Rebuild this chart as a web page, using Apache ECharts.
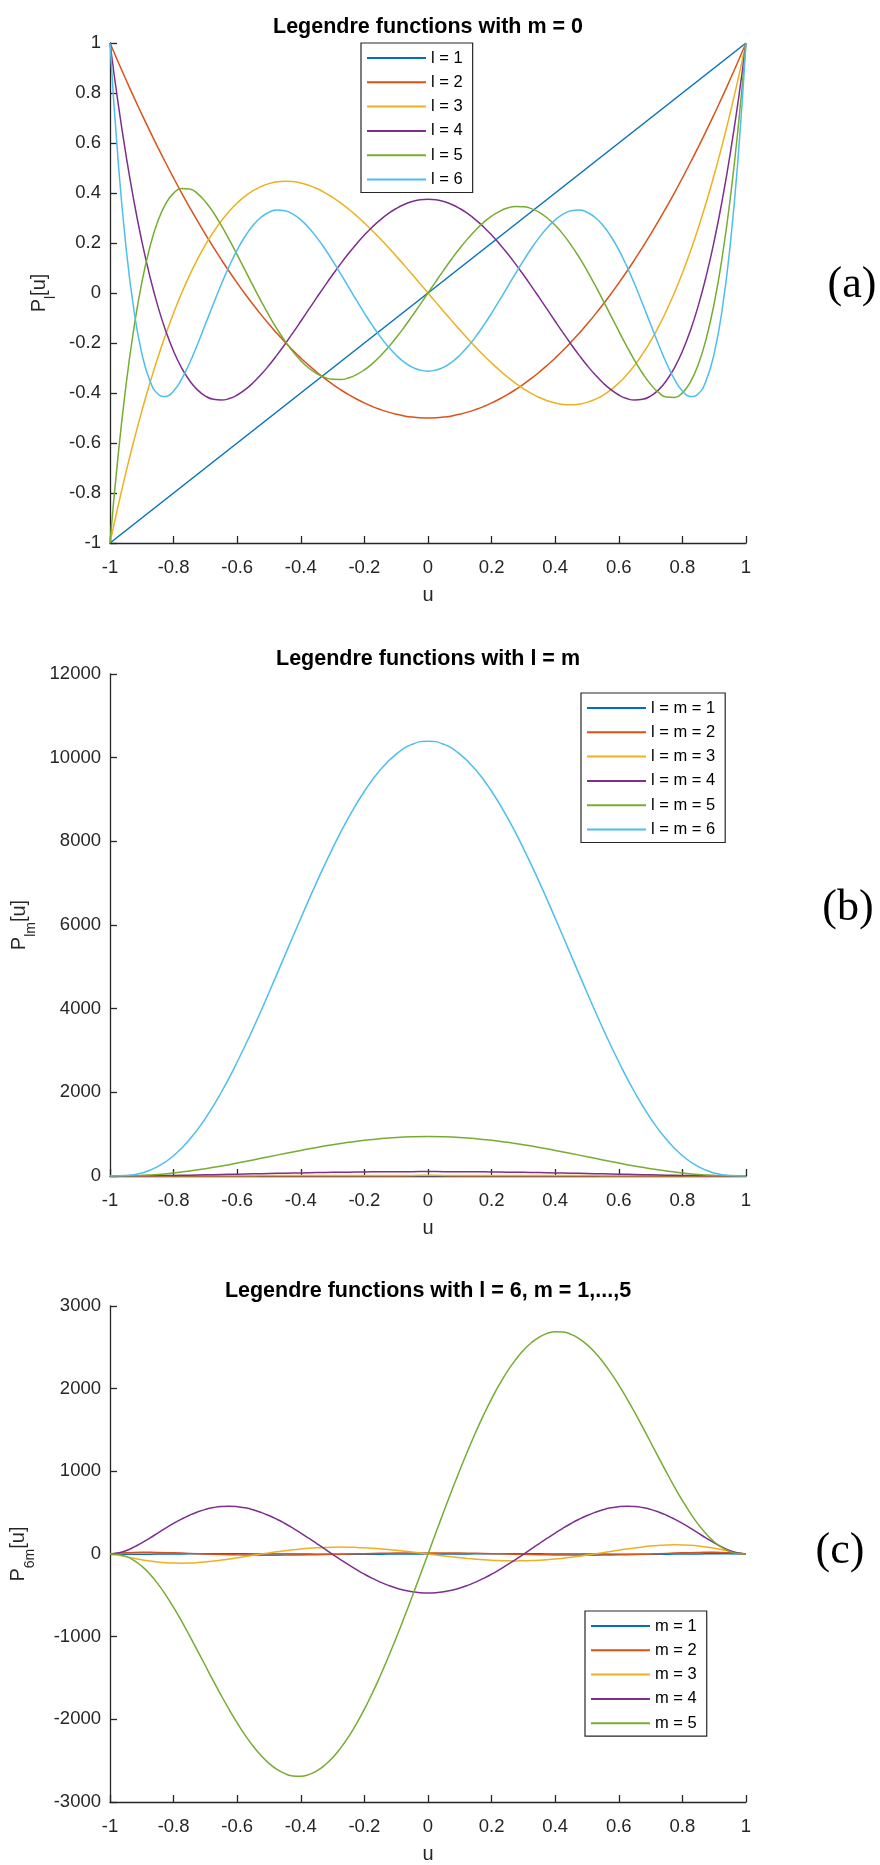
<!DOCTYPE html>
<html>
<head>
<meta charset="utf-8">
<script src="https://cdn.jsdelivr.net/npm/echarts@6/dist/echarts.min.js"></script>
<style>
html,body{margin:0;padding:0;background:#fff;}
#chart{width:880px;height:1865px;}
</style>
</head>
<body>
<div id="chart"></div>
<script>
// ---------- data ----------
// fine u grid (step 0.025) used by the wavy curves
const uA = [-1,-0.975,-0.95,-0.925,-0.9,-0.875,-0.85,-0.825,-0.8,-0.775,-0.75,-0.725,-0.7,-0.675,-0.65,-0.625,-0.6,-0.575,-0.55,-0.525,-0.5,-0.475,-0.45,-0.425,-0.4,-0.375,-0.35,-0.325,-0.3,-0.275,-0.25,-0.225,-0.2,-0.175,-0.15,-0.125,-0.1,-0.075,-0.05,-0.025,0,0.025,0.05,0.075,0.1,0.125,0.15,0.175,0.2,0.225,0.25,0.275,0.3,0.325,0.35,0.375,0.4,0.425,0.45,0.475,0.5,0.525,0.55,0.575,0.6,0.625,0.65,0.675,0.7,0.725,0.75,0.775,0.8,0.825,0.85,0.875,0.9,0.925,0.95,0.975,1];
// coarser u grid (step 0.05)
const uB = [-1,-0.95,-0.9,-0.85,-0.8,-0.75,-0.7,-0.65,-0.6,-0.55,-0.5,-0.45,-0.4,-0.35,-0.3,-0.25,-0.2,-0.15,-0.1,-0.05,0,0.05,0.1,0.15,0.2,0.25,0.3,0.35,0.4,0.45,0.5,0.55,0.6,0.65,0.7,0.75,0.8,0.85,0.9,0.95,1];
// straight line end points
const uL = [-1, 1];

// panel (a): P_l[u], m = 0
const a_l1 = [-1, 1];
const a_l2 = [1,0.9259,0.8538,0.7834,0.715,0.6484,0.5838,0.5209,0.46,0.4009,0.3438,0.2884,0.235,0.1834,0.1338,0.0859,0.04,-0.0041,-0.0463,-0.0866,-0.125,-0.1616,-0.1963,-0.2291,-0.26,-0.2891,-0.3163,-0.3416,-0.365,-0.3866,-0.4063,-0.4241,-0.44,-0.4541,-0.4663,-0.4766,-0.485,-0.4916,-0.4963,-0.4991,-0.5,-0.4991,-0.4963,-0.4916,-0.485,-0.4766,-0.4663,-0.4541,-0.44,-0.4241,-0.4063,-0.3866,-0.365,-0.3416,-0.3163,-0.2891,-0.26,-0.2291,-0.1963,-0.1616,-0.125,-0.0866,-0.0463,-0.0041,0.04,0.0859,0.1338,0.1834,0.235,0.2884,0.3438,0.4009,0.46,0.5209,0.5838,0.6484,0.715,0.7834,0.8538,0.9259,1];
const a_l3 = [-1,-0.8547,-0.7184,-0.5911,-0.4725,-0.3623,-0.2603,-0.1663,-0.08,-0.0012,0.0703,0.1348,0.1925,0.2436,0.2884,0.3272,0.36,0.3872,0.4091,0.4257,0.4375,0.4446,0.4472,0.4456,0.44,0.4307,0.4178,0.4017,0.3825,0.3605,0.3359,0.309,0.28,0.2491,0.2166,0.1826,0.1475,0.1115,0.0747,0.0375,0,-0.0375,-0.0747,-0.1115,-0.1475,-0.1826,-0.2166,-0.2491,-0.28,-0.309,-0.3359,-0.3605,-0.3825,-0.4017,-0.4178,-0.4307,-0.44,-0.4456,-0.4472,-0.4446,-0.4375,-0.4257,-0.4091,-0.3872,-0.36,-0.3272,-0.2884,-0.2436,-0.1925,-0.1348,-0.0703,0.0012,0.08,0.1663,0.2603,0.3623,0.4725,0.5911,0.7184,0.8547,1];
const a_l4 = [1,0.7638,0.5541,0.3693,0.2079,0.0685,-0.0506,-0.1506,-0.233,-0.2991,-0.3501,-0.3874,-0.4121,-0.4254,-0.4284,-0.4223,-0.408,-0.3866,-0.359,-0.3262,-0.2891,-0.2484,-0.205,-0.1596,-0.113,-0.0658,-0.0187,0.0277,0.0729,0.1164,0.1577,0.1964,0.232,0.2643,0.2928,0.3175,0.3379,0.354,0.3657,0.3727,0.375,0.3727,0.3657,0.354,0.3379,0.3175,0.2928,0.2643,0.232,0.1964,0.1577,0.1164,0.0729,0.0277,-0.0187,-0.0658,-0.113,-0.1596,-0.205,-0.2484,-0.2891,-0.3262,-0.359,-0.3866,-0.408,-0.4223,-0.4284,-0.4254,-0.4121,-0.3874,-0.3501,-0.2991,-0.233,-0.1506,-0.0506,0.0685,0.2079,0.3693,0.5541,0.7638,1];
const a_l5 = [-1,-0.6567,-0.3727,-0.142,0.0411,0.182,0.2857,0.3567,0.3995,0.4182,0.4164,0.3977,0.3652,0.3219,0.2705,0.2133,0.1526,0.0904,0.0282,-0.0323,-0.0898,-0.1433,-0.1917,-0.2344,-0.2706,-0.3001,-0.3225,-0.3376,-0.3454,-0.346,-0.3397,-0.3268,-0.3075,-0.2825,-0.2523,-0.2175,-0.1788,-0.137,-0.0927,-0.0467,0,0.0467,0.0927,0.137,0.1788,0.2175,0.2523,0.2825,0.3075,0.3268,0.3397,0.346,0.3454,0.3376,0.3225,0.3001,0.2706,0.2344,0.1917,0.1433,0.0898,0.0323,-0.0282,-0.0904,-0.1526,-0.2133,-0.2705,-0.3219,-0.3652,-0.3977,-0.4164,-0.4182,-0.3995,-0.3567,-0.2857,-0.182,-0.0411,0.142,0.3727,0.6567,1];
const a_l6 = [1,0.5374,0.1877,-0.0669,-0.2412,-0.3491,-0.403,-0.414,-0.3918,-0.3449,-0.2808,-0.2058,-0.1253,-0.0439,0.0347,0.1075,0.1721,0.2269,0.2708,0.303,0.3232,0.3318,0.329,0.3156,0.2926,0.2612,0.2225,0.178,0.1292,0.0774,0.0243,-0.0289,-0.0806,-0.1296,-0.1747,-0.2147,-0.2488,-0.2762,-0.2962,-0.3084,-0.3125,-0.3084,-0.2962,-0.2762,-0.2488,-0.2147,-0.1747,-0.1296,-0.0806,-0.0289,0.0243,0.0774,0.1292,0.178,0.2225,0.2612,0.2926,0.3156,0.329,0.3318,0.3232,0.303,0.2708,0.2269,0.1721,0.1075,0.0347,-0.0439,-0.1253,-0.2058,-0.2808,-0.3449,-0.3918,-0.414,-0.403,-0.3491,-0.2412,-0.0669,0.1877,0.5374,1];

// panel (b): P_lm[u] with l = m (on uB)
const b_m1 = [0,0.312,0.436,0.527,0.6,0.661,0.714,0.76,0.8,0.835,0.866,0.893,0.917,0.937,0.954,0.968,0.98,0.989,0.995,0.999,1,0.999,0.995,0.989,0.98,0.968,0.954,0.937,0.917,0.893,0.866,0.835,0.8,0.76,0.714,0.661,0.6,0.527,0.436,0.312,0];
const b_m2 = [0,0.29,0.57,0.83,1.08,1.31,1.53,1.73,1.92,2.09,2.25,2.39,2.52,2.63,2.73,2.81,2.88,2.93,2.97,2.99,3,2.99,2.97,2.93,2.88,2.81,2.73,2.63,2.52,2.39,2.25,2.09,1.92,1.73,1.53,1.31,1.08,0.83,0.57,0.29,0];
const b_m3 = [0,0.46,1.24,2.19,3.24,4.34,5.46,6.58,7.68,8.74,9.74,10.68,11.55,12.33,13.02,13.62,14.11,14.5,14.78,14.94,15,14.94,14.78,14.5,14.11,13.62,13.02,12.33,11.55,10.68,9.74,8.74,7.68,6.58,5.46,4.34,3.24,2.19,1.24,0.46,0];
const b_m4 = [0,1,3.8,8.1,13.6,20.1,27.3,35,43,51.1,59.1,66.8,74.1,80.9,87,92.3,96.8,100.3,102.9,104.5,105,104.5,102.9,100.3,96.8,92.3,87,80.9,74.1,66.8,59.1,51.1,43,35,27.3,20.1,13.6,8.1,3.8,1,0];
const b_m5 = [0,3,15,38,74,120,176,240,310,384,460,537,611,682,747,804,853,893,922,939,945,939,922,893,853,804,747,682,611,537,460,384,310,240,176,120,74,38,15,3,0];
const b_m6 = [0,10,71,222,485,871,1379,2002,2725,3527,4385,5273,6161,7024,7833,8565,9197,9709,10086,10317,10395,10317,10086,9709,9197,8565,7833,7024,6161,5273,4385,3527,2725,2002,1379,871,485,222,71,10,0];

// panel (c): P_6m[u], m = 1..5  (m = 1, 2 on uB; m = 3, 4, 5 on uA)
const c_m1 = [0,-3.741,-2.421,-0.648,0.861,1.867,2.331,2.314,1.919,1.272,0.497,-0.293,-1.005,-1.567,-1.929,-2.068,-1.982,-1.69,-1.228,-0.646,0,0.646,1.228,1.69,1.982,2.068,1.929,1.567,1.005,0.293,-0.497,-1.272,-1.919,-2.314,-2.331,-1.867,-0.861,0.648,2.421,3.741,0];
const c_m2 = [0,14.89,20.13,19.02,14.16,7.56,0.69,-5.41,-10.11,-13.05,-14.15,-13.52,-11.41,-8.18,-4.21,0.05,4.19,7.85,10.7,12.5,13.1,12.5,10.7,7.85,4.19,0.05,-4.21,-8.18,-11.41,-13.52,-14.15,-13.05,-10.11,-5.41,0.69,7.56,14.16,19.02,20.13,14.89,0];
const c_m3 = [0,-12.6,-31.6,-51.2,-69.4,-84.8,-96.8,-105.2,-110,-111.1,-109,-103.8,-96,-85.9,-74,-60.7,-46.4,-31.6,-16.5,-1.6,12.8,26.4,39,50.3,60.1,68.4,74.9,79.6,82.4,83.5,82.7,80.1,75.9,70.1,62.8,54.4,44.8,34.4,23.3,11.8,0,-11.8,-23.3,-34.4,-44.8,-54.4,-62.8,-70.1,-75.9,-80.1,-82.7,-83.5,-82.4,-79.6,-74.9,-68.4,-60.1,-50.3,-39,-26.4,-12.8,1.6,16.5,31.6,46.4,60.7,74,85.9,96,103.8,109,111.1,110,105.2,96.8,84.8,69.4,51.2,31.6,12.6,0];
const c_m4 = [0,10.9,40.1,82.9,134.9,192.6,252.8,312.7,369.9,422.5,469.2,508.5,539.5,561.7,574.8,578.5,572.9,558.2,535,503.8,465.1,419.9,368.9,313.1,253.4,190.8,126.4,61.2,-3.9,-67.9,-129.8,-188.7,-243.9,-294.4,-339.7,-379.2,-412.2,-438.3,-457.2,-468.7,-472.5,-468.7,-457.2,-438.3,-412.2,-379.2,-339.7,-294.4,-243.9,-188.7,-129.8,-67.9,-3.9,61.2,126.4,190.8,253.4,313.1,368.9,419.9,465.1,503.8,535,558.2,572.9,578.5,574.8,561.7,539.5,508.5,469.2,422.5,369.9,312.7,252.8,192.6,134.9,82.9,40.1,10.9,0];
const c_m5 = [0,-6,-29,-76,-147,-242,-358,-494,-647,-812,-987,-1168,-1352,-1534,-1713,-1883,-2044,-2191,-2323,-2437,-2532,-2606,-2657,-2685,-2689,-2669,-2624,-2556,-2464,-2348,-2212,-2054,-1877,-1683,-1473,-1249,-1014,-769,-517,-260,0,260,517,769,1014,1249,1473,1683,1877,2054,2212,2348,2464,2556,2624,2669,2689,2685,2657,2606,2532,2437,2323,2191,2044,1883,1713,1534,1352,1168,987,812,647,494,358,242,147,76,29,6,0];

// names / labels
const namesA = ['l = 1','l = 2','l = 3','l = 4','l = 5','l = 6'];
const namesB = ['l = m = 1','l = m = 2','l = m = 3','l = m = 4','l = m = 5','l = m = 6'];
const namesC = ['m = 1','m = 2','m = 3','m = 4','m = 5'];
const titles = ['Legendre functions with m = 0','Legendre functions with l = m','Legendre functions with l = 6, m = 1,...,5'];
const panelTags = ['(a)','(b)','(c)'];

// ---------- styling ----------
const colors = ['#0072BD','#D95319','#EDB120','#7E2F8E','#77AC30','#4DBEEE'];
const FONT = 'Liberation Sans, Arial, Helvetica, sans-serif';
const AX = '#262626';

const grids = [
  {left:110, top:43, width:636, height:500},
  {left:110, top:674, width:636, height:502},
  {left:110, top:1306, width:636, height:501}
];

function pairs(xs, ys){ return xs.map((x,i)=>[x, ys[i]]); }

function xAxisFor(i){
  return {
    type:'value', gridIndex:i, min:-1, max:1, interval:0.2,
    name:'u', nameLocation:'middle', nameGap:42,
    nameTextStyle:{fontSize:20, color:AX, fontFamily:FONT},
    axisLine:{show:true, onZero:false, lineStyle:{color:AX, width:1.3}},
    axisTick:{show:true, inside:true, length:7, lineStyle:{color:AX, width:1.3}},
    axisLabel:{fontSize:18.5, color:AX, fontFamily:FONT, margin:15},
    splitLine:{show:false}
  };
}
function yAxisFor(i, min, max, interval, sub, gap){
  return {
    type:'value', gridIndex:i, min:min, max:max, interval:interval,
    name:'{p|P}{s|' + sub + '}{p|[u]}', nameLocation:'middle', nameRotate:90, nameGap:gap,
    nameTextStyle:{color:AX, fontFamily:FONT, rich:{
      p:{fontSize:20, color:AX, fontFamily:FONT, lineHeight:38},
      s:{fontSize:14, color:AX, fontFamily:FONT, lineHeight:14, verticalAlign:'bottom'}
    }},
    axisLine:{show:true, onZero:false, lineStyle:{color:AX, width:1.3}},
    axisTick:{show:true, inside:true, length:7, lineStyle:{color:AX, width:1.3}},
    axisLabel:{fontSize:18.5, color:AX, fontFamily:FONT, margin:9, formatter:(v)=>String(Math.round(v*1000)/1000)},
    splitLine:{show:false}
  };
}
function lineSeries(name, gi, xs, ys, color){
  return {
    type:'line', name:name, xAxisIndex:gi, yAxisIndex:gi,
    data:pairs(xs, ys), symbol:'none', showSymbol:false, smooth:true,
    lineStyle:{width:1.5, color:color}, itemStyle:{color:color}, emphasis:{disabled:true}
  };
}
function legendFor(names, left, top){
  return {
    data:names, orient:'vertical', left:left, top:top, selectedMode:false,
    itemWidth:59, itemHeight:20, itemGap:4.3, padding:[5,10,3,5],
    borderColor:AX, borderWidth:1.2, backgroundColor:'#fff',
    itemStyle:{opacity:0},
    lineStyle:{width:2},
    textStyle:{fontSize:16.5, color:'#000', fontFamily:FONT, lineHeight:20}
  };
}

const gridsA = [uL, uA, uA, uA, uA, uA];
const seriesA = [a_l1,a_l2,a_l3,a_l4,a_l5,a_l6].map((ys,k)=>lineSeries(namesA[k],0,gridsA[k],ys,colors[k]));
const seriesB = [b_m1,b_m2,b_m3,b_m4,b_m5,b_m6].map((ys,k)=>lineSeries(namesB[k],1,uB,ys,colors[k]));
const gridsC = [uB, uB, uA, uA, uA];
const seriesC = [c_m1,c_m2,c_m3,c_m4,c_m5].map((ys,k)=>lineSeries(namesC[k],2,gridsC[k],ys,colors[k]));

const titleTops = [16, 648, 1280];
const tagPos = [[852,285],[848,908],[840,1551]];

const option = {
  animation:false,
  backgroundColor:'#fff',
  title: titles.map((t,i)=>({
    text:t, left:428, top:titleTops[i], textAlign:'center', padding:0,
    textStyle:{fontSize:21.5, fontWeight:'bold', color:'#000', fontFamily:FONT}
  })),
  grid: grids,
  xAxis: [0,1,2].map(xAxisFor),
  yAxis: [
    yAxisFor(0,-1,1,0.2,'l',49),
    yAxisFor(1,0,12000,2000,'lm',72),
    yAxisFor(2,-3000,3000,1000,'6m',73)
  ],
  legend: [
    legendFor(namesA, 361, 43),
    legendFor(namesB, 581, 693),
    legendFor(namesC, 585, 1611)
  ],
  series: seriesA.concat(seriesB, seriesC),
  graphic: panelTags.map((t,i)=>({
    type:'text', x:tagPos[i][0], y:tagPos[i][1], silent:true,
    style:{text:t, fontSize:44, fontFamily:'Liberation Serif, Times New Roman, serif', fill:'#000', textAlign:'center', textVerticalAlign:'middle'}
  }))
};

const chart = echarts.init(document.getElementById('chart'), null, {renderer:'canvas'});
chart.setOption(option);
</script>
</body>
</html>
